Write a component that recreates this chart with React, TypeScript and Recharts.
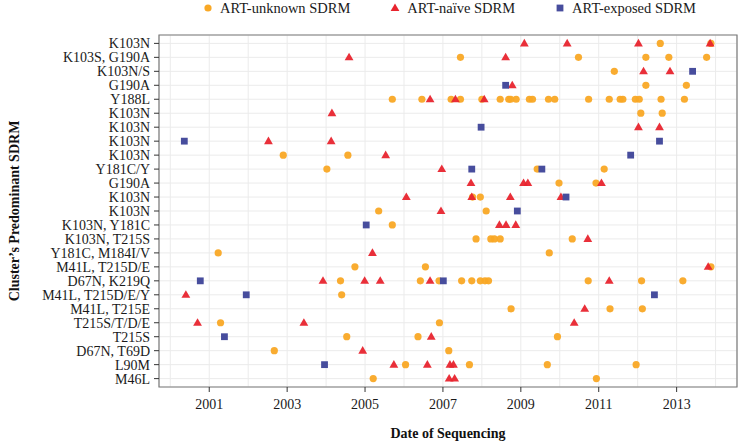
import React from 'react';
import { ScatterChart, Scatter, XAxis, YAxis, CartesianGrid, Legend, ReferenceArea } from 'recharts';

// rows top to bottom (row 1 is the top one)
const ROW_LABELS = [
  'K103N', 'K103S, G190A', 'K103N/S', 'G190A', 'Y188L', 'K103N', 'K103N', 'K103N', 'K103N',
  'Y181C/Y', 'G190A', 'K103N', 'K103N', 'K103N, Y181C', 'K103N, T215S', 'Y181C, M184I/V',
  'M41L, T215D/E', 'D67N, K219Q', 'M41L, T215D/E/Y', 'M41L, T215E', 'T215S/T/D/E', 'T215S',
  'D67N, T69D', 'L90M', 'M46L',
];
const ROW_TICKS = ROW_LABELS.map((_, i) => i + 1);

const YEAR_TICKS = [2001, 2003, 2005, 2007, 2009, 2011, 2013];
const GRID_YEARS = [2000, 2001, 2002, 2003, 2004, 2005, 2006, 2007, 2008, 2009, 2010, 2011, 2012, 2013, 2014];
const X_DOMAIN = [1999.71, 2014.55];
const Y_DOMAIN = [0.4, 25.6];

// [row, date of sequencing]
const UNKNOWN_SDRM: [number, number][] = [
  [1, 2012.58], [1, 2013.88],
  [2, 2007.45], [2, 2010.48], [2, 2012.21], [2, 2012.8], [2, 2013.77],
  [3, 2011.4],
  [4, 2012.21], [4, 2013.25],
  [5, 2005.7], [5, 2006.46], [5, 2007.21], [5, 2007.45], [5, 2008.0], [5, 2008.47], [5, 2008.69],
  [5, 2008.74], [5, 2008.88], [5, 2009.22], [5, 2009.3], [5, 2009.71], [5, 2009.87], [5, 2010.74],
  [5, 2011.27], [5, 2011.55], [5, 2011.62], [5, 2011.94], [5, 2012.04], [5, 2012.6], [5, 2013.2],
  [6, 2012.08], [6, 2012.63],
  [9, 2002.9], [9, 2004.56],
  [10, 2004.02], [10, 2009.42], [10, 2011.14],
  [11, 2009.98], [11, 2010.93],
  [12, 2007.76], [12, 2007.96],
  [13, 2005.35], [13, 2008.11],
  [14, 2005.7],
  [15, 2007.85], [15, 2008.23], [15, 2008.32], [15, 2008.47], [15, 2010.32],
  [16, 2001.23], [16, 2009.73],
  [17, 2004.74], [17, 2006.55], [17, 2013.88],
  [18, 2004.37], [18, 2006.42], [18, 2006.9], [18, 2007.48], [18, 2007.74], [18, 2007.96],
  [18, 2008.08], [18, 2008.17], [18, 2010.73], [18, 2012.1], [18, 2013.16],
  [19, 2004.4],
  [20, 2008.75], [20, 2011.29], [20, 2012.12],
  [21, 2001.29], [21, 2006.91],
  [22, 2004.53], [22, 2006.36], [22, 2009.94],
  [23, 2002.67], [23, 2007.15],
  [24, 2006.04], [24, 2007.68], [24, 2009.68], [24, 2011.96],
  [25, 2005.21], [25, 2010.94],
];

const NAIVE_SDRM: [number, number][] = [
  [1, 2009.09], [1, 2010.19], [1, 2012.02], [1, 2013.86],
  [2, 2004.59], [2, 2008.61],
  [3, 2012.15], [3, 2012.83],
  [4, 2008.78],
  [5, 2006.67], [5, 2007.32], [5, 2008.06],
  [6, 2004.15],
  [7, 2012.02], [7, 2012.56],
  [8, 2002.52], [8, 2004.13],
  [9, 2005.53],
  [10, 2006.97],
  [11, 2007.72], [11, 2009.07], [11, 2009.18], [11, 2011.07],
  [12, 2006.06], [12, 2007.74], [12, 2008.73], [12, 2010.03],
  [13, 2006.95],
  [14, 2008.45], [14, 2008.62], [14, 2008.87],
  [15, 2010.72],
  [16, 2005.19],
  [17, 2013.81],
  [18, 2003.92], [18, 2004.99], [18, 2005.39], [18, 2006.67], [18, 2011.27],
  [19, 2000.4],
  [20, 2010.64],
  [21, 2000.7], [21, 2003.43], [21, 2010.37],
  [22, 2006.7],
  [23, 2004.94],
  [24, 2005.74], [24, 2006.6], [24, 2007.18], [24, 2007.27],
  [25, 2007.16], [25, 2007.3],
];

const EXPOSED_SDRM: [number, number][] = [
  [3, 2013.41],
  [4, 2008.61],
  [7, 2007.98],
  [8, 2000.36], [8, 2012.56],
  [9, 2011.82],
  [10, 2007.74], [10, 2009.54],
  [12, 2010.16],
  [13, 2008.91],
  [14, 2005.03],
  [18, 2000.77], [18, 2007.01],
  [19, 2001.95], [19, 2012.43],
  [22, 2001.39],
  [24, 2003.96],
];

const ORANGE = '#F9A825';
const RED = '#E8242E';
const BLUE = '#474D9D';
const FONT = '"Liberation Serif", "DejaVu Serif", serif';

const toPoints = (list: [number, number][]) => list.map(([row, date]) => ({ row, date }));

const CircleShape = (p: any) => <circle cx={p.cx} cy={p.cy} r={3.6} fill={ORANGE} fillOpacity={0.95} />;
const TriangleShape = (p: any) => (
  <polygon
    points={`${p.cx},${p.cy - 4.6} ${p.cx - 4.4},${p.cy + 3} ${p.cx + 4.4},${p.cy + 3}`}
    fill={RED}
    fillOpacity={0.95}
  />
);
const SquareShape = (p: any) => <rect x={p.cx - 3.4} y={p.cy - 3.4} width={6.8} height={6.8} fill={BLUE} />;

const LegendIcon = ({ kind }: { kind: string }) => (
  <svg width={10} height={10} style={{ marginRight: 7 }}>
    {kind === 'circle' && <circle cx={5} cy={5} r={3.6} fill={ORANGE} />}
    {kind === 'triangle' && <polygon points="5,0.4 0.6,8 9.4,8" fill={RED} />}
    {kind === 'square' && <rect x={1.6} y={1.6} width={6.8} height={6.8} fill={BLUE} />}
  </svg>
);

const LEGEND_ITEMS = [
  { kind: 'circle', label: 'ART-unknown SDRM' },
  { kind: 'triangle', label: 'ART-naïve SDRM' },
  { kind: 'square', label: 'ART-exposed SDRM' },
];

const renderLegend = () => (
  <div
    style={{
      width: 739,
      height: 35,
      display: 'flex',
      justifyContent: 'center',
      alignItems: 'flex-start',
      paddingLeft: 160,
      paddingTop: 0,
      boxSizing: 'border-box',
      fontFamily: FONT,
      fontSize: 14.5,
      color: '#1a1a1a',
    }}
  >
    {LEGEND_ITEMS.map((it) => (
      <div key={it.label} style={{ display: 'flex', alignItems: 'center', margin: '0 20px', lineHeight: '16px' }}>
        <LegendIcon kind={it.kind} />
        <span>{it.label}</span>
      </div>
    ))}
  </div>
);

const YTitle = (props: any) => {
  const vb = props.viewBox || { x: 0, y: 35, width: 159, height: 352 };
  const x = vb.x + 14;
  const y = vb.y + vb.height / 2;
  return (
    <text
      x={x}
      y={y}
      transform={`rotate(-90, ${x}, ${y})`}
      textAnchor="middle"
      dominantBaseline="central"
      fontFamily={FONT}
      fontWeight="bold"
      fontSize={14}
      fill="#111"
    >
      Cluster’s Predominant SDRM
    </text>
  );
};

const App: React.FC = () => {
  return (
    <div style={{ position: 'absolute', left: 0, top: 0, background: '#fff' }}>
      <ScatterChart width={739} height={442} margin={{ top: 0, right: 2, bottom: 0, left: 0 }}>
        <Legend verticalAlign="top" content={renderLegend} />
        <CartesianGrid xAxisId="grid" vertical horizontal={false} stroke="#ebebeb" strokeWidth={1} />
        <CartesianGrid vertical={false} stroke="#ebebeb" strokeWidth={1} />
        <XAxis
          xAxisId="grid"
          type="number"
          dataKey="date"
          domain={X_DOMAIN}
          ticks={GRID_YEARS}
          allowDataOverflow
          hide
        />
        <XAxis
          type="number"
          dataKey="date"
          domain={X_DOMAIN}
          ticks={YEAR_TICKS}
          interval={0}
          allowDataOverflow
          height={55}
          axisLine={false}
          tickLine={{ stroke: '#333' }}
          tickSize={5}
          tickMargin={7}
          tick={{ fontFamily: FONT, fontSize: 14, fill: '#1a1a1a' }}
          label={{
            value: 'Date of Sequencing',
            position: 'insideBottom',
            offset: 4,
            style: { fontFamily: FONT, fontWeight: 'bold', fontSize: 14, fill: '#111' },
          }}
        />
        <YAxis
          type="number"
          dataKey="row"
          domain={Y_DOMAIN}
          ticks={ROW_TICKS}
          interval={0}
          reversed
          allowDataOverflow
          width={159}
          axisLine={false}
          tickLine={{ stroke: '#333' }}
          tickSize={5}
          tickMargin={4}
          tickFormatter={(v: number) => ROW_LABELS[v - 1] ?? ''}
          tick={{ fontFamily: FONT, fontSize: 14, fill: '#1a1a1a' }}
          label={YTitle}
        />
        <Scatter name="ART-unknown SDRM" data={toPoints(UNKNOWN_SDRM)} shape={CircleShape} isAnimationActive={false} />
        <Scatter name="ART-naïve SDRM" data={toPoints(NAIVE_SDRM)} shape={TriangleShape} isAnimationActive={false} />
        <Scatter name="ART-exposed SDRM" data={toPoints(EXPOSED_SDRM)} shape={SquareShape} isAnimationActive={false} />
        <ReferenceArea
          x1={X_DOMAIN[0]}
          x2={X_DOMAIN[1]}
          y1={Y_DOMAIN[0]}
          y2={Y_DOMAIN[1]}
          fill="none"
          stroke="#7a7a7a"
          strokeWidth={1.2}
          ifOverflow="visible"
        />
      </ScatterChart>
    </div>
  );
};

export default App;
